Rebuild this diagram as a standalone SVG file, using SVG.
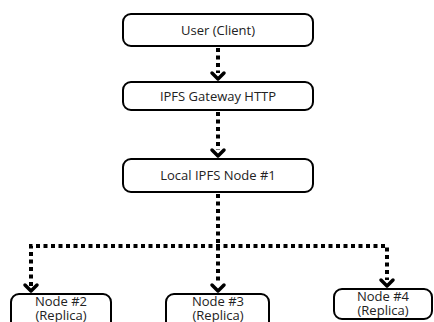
<svg xmlns="http://www.w3.org/2000/svg" width="434" height="322" viewBox="0 0 434 322">
<defs>
<style>
.box{fill:#fff;stroke:#000;stroke-width:2}
.t{font-family:"Open Sans","Liberation Sans",sans-serif;font-size:13px;fill:#222;text-anchor:middle}
.c{fill:none;stroke:#000;stroke-width:4;stroke-dasharray:4 3.5}
.h{fill:none;stroke:#000;stroke-width:3.5;stroke-linecap:round;stroke-linejoin:round}
</style>
</defs>
<rect width="434" height="322" fill="#fff"/>
<g id="connectors">
<path class="c" d="M218 48V73"/>
<path class="h" d="M212 73L218 79L224 73"/>
<path class="c" d="M218 112V150"/>
<path class="h" d="M212 150L218 156L224 150"/>
<path class="c" d="M218 194V284"/>
<path class="c" d="M31 286V246H387V280"/>
<path class="h" d="M25 285L31 291L37 285"/>
<path class="h" d="M212 285L218 291L224 285"/>
<path class="h" d="M381 280L387 286L393 280"/>
</g>
<g id="user">
<rect class="box" x="123" y="14" width="190" height="32" rx="8"/>
<text class="t" x="218" y="35">User (Client)</text>
</g>
<g id="gateway">
<rect class="box" x="123" y="82" width="190" height="28" rx="8"/>
<text class="t" x="218" y="101">IPFS Gateway HTTP</text>
</g>
<g id="local">
<rect class="box" x="123" y="159" width="190" height="33" rx="8"/>
<text class="t" x="218" y="180">Local IPFS Node #1</text>
</g>
<g id="node2">
<rect class="box" x="11" y="294" width="100" height="40" rx="8"/>
<text class="t" x="61" y="306">Node #2</text>
<text class="t" x="61" y="320">(Replica)</text>
</g>
<g id="node3">
<rect class="box" x="166" y="294" width="103" height="40" rx="8"/>
<text class="t" x="218" y="306">Node #3</text>
<text class="t" x="218" y="320">(Replica)</text>
</g>
<g id="node4">
<rect class="box" x="334" y="289" width="98" height="30" rx="8"/>
<text class="t" x="383" y="301">Node #4</text>
<text class="t" x="383" y="315">(Replica)</text>
</g>
</svg>
